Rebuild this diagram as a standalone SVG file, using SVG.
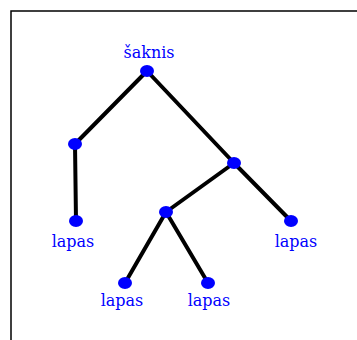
<svg xmlns="http://www.w3.org/2000/svg" width="357" height="340" viewBox="0 0 357 340">
<style>
.e{stroke:#000;stroke-width:4;stroke-linecap:round}
.n{fill:#0000ff}
.t{font-family:"DejaVu Serif",serif;font-size:16px;fill:#0000ff;text-anchor:middle}
</style>
<rect width="357" height="340" fill="#fff"/>
<path d="M11 340V11H357" fill="none" stroke="#000" stroke-width="1.5"/>
<g id="connectors">
<line class="e" x1="147" y1="71" x2="75" y2="144"/>
<line class="e" x1="147" y1="71" x2="234" y2="163"/>
<line class="e" x1="75" y1="144" x2="76" y2="221"/>
<line class="e" x1="234" y1="163" x2="166" y2="212"/>
<line class="e" x1="234" y1="163" x2="291" y2="221"/>
<line class="e" x1="166" y1="212" x2="125" y2="283"/>
<line class="e" x1="166" y1="212" x2="208" y2="283"/>
</g>
<g id="root"><ellipse class="n" cx="147" cy="71" rx="7" ry="6"/><text class="t" x="149" y="58">šaknis</text></g>
<g id="n1"><ellipse class="n" cx="75" cy="144" rx="7" ry="6"/></g>
<g id="n2"><ellipse class="n" cx="234" cy="163" rx="7" ry="6"/></g>
<g id="leaf1"><ellipse class="n" cx="76" cy="221" rx="7" ry="6"/><text class="t" x="73" y="247">lapas</text></g>
<g id="n3"><ellipse class="n" cx="166" cy="212" rx="7" ry="6"/></g>
<g id="leaf2"><ellipse class="n" cx="291" cy="221" rx="7" ry="6"/><text class="t" x="296" y="247">lapas</text></g>
<g id="leaf3"><ellipse class="n" cx="125" cy="283" rx="7" ry="6"/><text class="t" x="122" y="306">lapas</text></g>
<g id="leaf4"><ellipse class="n" cx="208" cy="283" rx="7" ry="6"/><text class="t" x="209" y="306">lapas</text></g>
</svg>
